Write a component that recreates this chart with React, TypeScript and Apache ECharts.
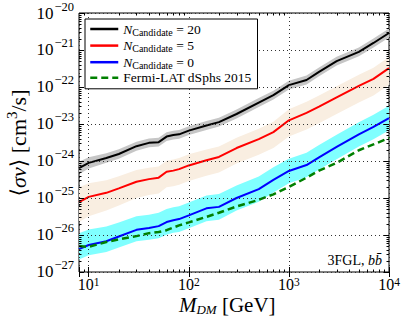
import React, { useEffect, useRef } from "react";
import * as echarts from "echarts";

// Dark-matter masses (GeV)
const masses = [8, 10, 15, 20, 30, 40, 50, 60, 70, 80, 100, 150, 200, 300, 500, 700, 1000, 1500, 2000, 3000, 5000, 7000, 10000];

// log10 <sigma v> [cm^3/s]
const logN20 = [-24.19, -24.05, -23.92, -23.81, -23.6, -23.51, -23.49, -23.34, -23.3, -23.28, -23.18, -23.04, -22.95, -22.73, -22.42, -22.22, -21.95, -21.81, -21.59, -21.3, -21.05, -20.81, -20.54];
const logN5 = [-25.11, -24.97, -24.86, -24.74, -24.56, -24.49, -24.45, -24.29, -24.26, -24.22, -24.12, -23.98, -23.89, -23.65, -23.41, -23.22, -22.9, -22.7, -22.53, -22.28, -21.97, -21.78, -21.49];
const logN0 = [-26.38, -26.27, -26.17, -26.04, -25.86, -25.81, -25.76, -25.65, -25.6, -25.57, -25.47, -25.28, -25.24, -25.0, -24.76, -24.51, -24.27, -24.11, -23.9, -23.62, -23.28, -23.08, -22.84];
const logFermi = [-26.3, -26.32, -26.19, -26.12, -26.03, -25.95, -25.92, -25.87, -25.8, -25.74, -25.66, -25.51, -25.4, -25.23, -25.05, -24.9, -24.7, -24.45, -24.26, -24.05, -23.71, -23.55, -23.38];

// band half-widths (decades above / below the line)
const n20Up = [0.17, 0.15, 0.13, 0.13, 0.12, 0.12, 0.12, 0.12, 0.12, 0.12, 0.12, 0.12, 0.12, 0.12, 0.12, 0.12, 0.12, 0.12, 0.12, 0.12, 0.12, 0.12, 0.12];
const n20Dn = [0.17, 0.15, 0.13, 0.13, 0.12, 0.12, 0.12, 0.12, 0.12, 0.12, 0.12, 0.12, 0.12, 0.12, 0.12, 0.12, 0.12, 0.12, 0.12, 0.12, 0.12, 0.12, 0.12];
const n5Up = [0.4, 0.37, 0.34, 0.33, 0.32, 0.31, 0.3, 0.3, 0.3, 0.3, 0.3, 0.29, 0.28, 0.28, 0.28, 0.28, 0.3, 0.3, 0.3, 0.3, 0.3, 0.3, 0.3];
const n5Dn = [0.54, 0.52, 0.48, 0.46, 0.44, 0.43, 0.43, 0.42, 0.42, 0.42, 0.42, 0.42, 0.42, 0.42, 0.42, 0.43, 0.44, 0.45, 0.45, 0.45, 0.45, 0.45, 0.45];
const n0Up = [0.43, 0.42, 0.4, 0.38, 0.37, 0.36, 0.36, 0.35, 0.35, 0.35, 0.35, 0.35, 0.35, 0.34, 0.34, 0.34, 0.33, 0.33, 0.33, 0.33, 0.33, 0.33, 0.33];
const n0Dn = [0.28, 0.28, 0.29, 0.3, 0.31, 0.32, 0.33, 0.34, 0.34, 0.35, 0.35, 0.35, 0.35, 0.34, 0.34, 0.34, 0.33, 0.33, 0.33, 0.33, 0.33, 0.33, 0.33];

const seriesNames = ["N20", "N5", "N0", "Fermi-LAT dSphs 2015"];
const legendCounts: Record<string, string> = { N20: "20", N5: "5", N0: "0" };

const SERIF = "'Liberation Serif', 'DejaVu Serif', serif";

const pw = (v: number) => Math.pow(10, v);
const linePoints = (logs: number[]) => masses.map((m, i) => [m, pw(logs[i])]);

function bandSeries(logs: number[], up: number[], dn: number[], color: string) {
  return {
    type: "custom",
    silent: true,
    z: 1,
    clip: true,
    data: [[masses[0], pw(logs[0])]],
    renderItem: (_params: any, api: any) => {
      const pts: number[][] = [];
      for (let i = 0; i < masses.length; i++) pts.push(api.coord([masses[i], pw(logs[i] + up[i])]));
      for (let i = masses.length - 1; i >= 0; i--) pts.push(api.coord([masses[i], pw(logs[i] - dn[i])]));
      return { type: "polygon", shape: { points: pts }, style: { fill: color } };
    },
  };
}

const xMinorVals: number[] = [];
for (const d of [1, 10, 100, 1000]) for (let k = 2; k <= 9; k++) { const v = k * d; if (v > 8 && v < 10000) xMinorVals.push(v); }
const yMinorVals: number[] = [];
for (let e = -27; e < -20; e++) for (let k = 2; k <= 9; k++) yMinorVals.push(k * Math.pow(10, e));

function isPow10(v: number) {
  const l = Math.log10(v);
  return Math.abs(l - Math.round(l)) < 1e-6;
}

export default function App() {
  const ref = useRef<HTMLDivElement>(null);
  useEffect(() => {
    if (!ref.current) return;
    const chart = echarts.init(ref.current, undefined, { renderer: "svg" });
    const baseAxis = {
      z: 3,
      axisLine: { show: false },
      axisTick: { show: true, inside: true, length: 5, lineStyle: { color: "#000", width: 1 } },
      minorTick: { show: false },
      nameMoveOverlap: false,
    };
    const option: any = {
      animation: false,
      backgroundColor: "#fff",
      grid: { left: 79, top: 13, right: 18, bottom: 54, show: true, borderColor: "#000", borderWidth: 1, backgroundColor: "transparent", outerBoundsMode: "none", containLabel: false },
      xAxis: [
        {
          ...baseAxis,
          type: "log",
          logBase: 10,
          min: 8,
          max: 10000,
          position: "bottom",
          axisLabel: {
            show: true,
            margin: 4,
            showMinLabel: true,
            showMaxLabel: true,
            hideOverlap: false,
            color: "#000",
            fontSize: 16,
            lineHeight: 17,
            fontFamily: SERIF,
            formatter: (v: number) => (isPow10(v) ? `10{sup|${Math.round(Math.log10(v))}}` : ""),
            rich: { sup: { fontSize: 11.5, fontFamily: SERIF, color: "#000", lineHeight: 8, verticalAlign: "top" } },
          },
          splitLine: { show: true, lineStyle: { color: "#333", type: [1, 3], width: 1 } },
        },
        {
          ...baseAxis,
          type: "log",
          logBase: 10,
          min: 8,
          max: 10000,
          position: "top",
          axisLabel: { show: false },
          splitLine: { show: false },
        },
      ],
      yAxis: [
        {
          ...baseAxis,
          type: "log",
          logBase: 10,
          min: 0.9999e-27,
          max: 1e-20,
          position: "left",
          axisLabel: {
            show: true,
            margin: 5,
            showMinLabel: true,
            showMaxLabel: true,
            hideOverlap: false,
            color: "#000",
            fontSize: 17,
            fontFamily: SERIF,
            formatter: (v: number) => {
              if (!isPow10(v)) return "";
              const e = Math.round(Math.log10(v));
              return `10{sup|${e < 0 ? "\u2212" : ""}${Math.abs(e)}}`;
            },
            rich: { sup: { fontSize: 12.5, fontFamily: SERIF, color: "#000", padding: [0, 0, 13, 1] } },
          },
          splitLine: { show: true, lineStyle: { color: "#333", type: [1, 3], width: 1 } },
        },
        {
          ...baseAxis,
          type: "log",
          logBase: 10,
          min: 0.9999e-27,
          max: 1e-20,
          position: "right",
          axisLabel: { show: false },
          splitLine: { show: false },
        },
      ],
      legend: {
        show: true,
        data: seriesNames,
        orient: "vertical",
        left: 85,
        top: 19,
        itemWidth: 28,
        itemHeight: 14,
        itemGap: 0.6,
        backgroundColor: "#fff",
        borderColor: "#000",
        borderWidth: 1,
        borderRadius: 0,
        padding: [2, 6, 4, 4],
        z: 10,
        selectedMode: false,
        itemStyle: { opacity: 0 },
        lineStyle: { width: 2.5 },
        formatter: (name: string) =>
          legendCounts[name] !== undefined
            ? `{it|N}{sub|Candidate}{n| = ${legendCounts[name]}}`
            : `{n|${name}}`,
        textStyle: {
          color: "#000",
          fontSize: 13.5,
          fontFamily: SERIF,
          rich: {
            it: { fontSize: 13.5, fontStyle: "italic", fontFamily: SERIF, color: "#000", lineHeight: 17 },
            sub: { fontSize: 10, fontFamily: SERIF, color: "#000", padding: [6, 0, 0, 0], lineHeight: 11 },
            n: { fontSize: 13.5, fontFamily: SERIF, color: "#000", lineHeight: 17 },
          },
        },
      },
      graphic: [
        {
          type: "text",
          x: 382,
          y: 260,
          z: 20,
          style: {
            text: "{n|3FGL, }{it|bb\u0304}",
            align: "right",
            verticalAlign: "middle",
            rich: {
              n: { fontSize: 14, fontFamily: SERIF, fill: "#000" },
              it: { fontSize: 14, fontStyle: "italic", fontFamily: SERIF, fill: "#000" },
            },
          },
        },
        {
          type: "text",
          x: 179,
          y: 305,
          z: 20,
          style: {
            text: "{it|M}{sub|DM}{n| [GeV]}",
            align: "left",
            verticalAlign: "middle",
            rich: {
              it: { fontSize: 21, fontStyle: "italic", fontFamily: SERIF, fill: "#000", lineHeight: 20 },
              sub: { fontSize: 13, fontStyle: "italic", fontFamily: SERIF, fill: "#000", padding: [8, 0, 0, 0], lineHeight: 12 },
              n: { fontSize: 21, fontFamily: SERIF, fill: "#000", lineHeight: 20 },
            },
          },
        },
        {
          type: "text",
          x: 18,
          y: 143,
          z: 20,
          rotation: Math.PI / 2,
          style: {
            text: "{n|\u27E8}{it|\u03C3v}{n|\u27E9 [cm}{sup|3}{n|/s]}",
            align: "center",
            verticalAlign: "middle",
            rich: {
              n: { fontSize: 22, fontFamily: SERIF, fill: "#000" },
              it: { fontSize: 22, fontStyle: "italic", fontFamily: SERIF, fill: "#000" },
              sup: { fontSize: 15, fontFamily: SERIF, fill: "#000", padding: [0, 0, 12, 0] },
            },
          },
        },
      ],
      series: [
        bandSeries(logN20, n20Up, n20Dn, "#c6c6c6"),
        bandSeries(logN5, n5Up, n5Dn, "#f9eee1"),
        bandSeries(logN0, n0Up, n0Dn, "#80ffff"),
        {
          type: "custom",
          silent: true,
          z: 4,
          clip: false,
          data: [[100, 1e-24]],
          renderItem: (params: any, api: any) => {
            const cs = params.coordSys;
            const top = cs.y, bottom = cs.y + cs.height, left = cs.x, right = cs.x + cs.width;
            const L = 2.5;
            const children: any[] = [];
            const st = { stroke: "#000", lineWidth: 1 };
            for (const v of xMinorVals) {
              const px = Math.round(api.coord([v, 1e-24])[0]) + 0.5;
              children.push({ type: "line", shape: { x1: px, y1: bottom, x2: px, y2: bottom - L }, style: st });
              children.push({ type: "line", shape: { x1: px, y1: top, x2: px, y2: top + L }, style: st });
            }
            for (const v of yMinorVals) {
              const py = Math.round(api.coord([100, v])[1]) + 0.5;
              children.push({ type: "line", shape: { x1: left, y1: py, x2: left + L, y2: py }, style: st });
              children.push({ type: "line", shape: { x1: right, y1: py, x2: right - L, y2: py }, style: st });
            }
            return { type: "group", children };
          },
        },
        {
          name: "N20",
          type: "line",
          data: linePoints(logN20),
          symbol: "none",
          showSymbol: false,
          z: 2,
          lineStyle: { color: "#000", width: 2 },
          itemStyle: { color: "#000" },
        },
        {
          name: "N5",
          type: "line",
          data: linePoints(logN5),
          symbol: "none",
          showSymbol: false,
          z: 2,
          lineStyle: { color: "#ff0000", width: 2 },
          itemStyle: { color: "#ff0000" },
        },
        {
          name: "N0",
          type: "line",
          data: linePoints(logN0),
          symbol: "none",
          showSymbol: false,
          z: 2,
          lineStyle: { color: "#0000ff", width: 2 },
          itemStyle: { color: "#0000ff" },
        },
        {
          name: "Fermi-LAT dSphs 2015",
          type: "line",
          data: linePoints(logFermi),
          symbol: "none",
          showSymbol: false,
          z: 2,
          lineStyle: { color: "#008000", width: 2.5, type: [7, 4] },
          itemStyle: { color: "#008000" },
        },
      ],
    };
    chart.setOption(option);
    return () => chart.dispose();
  }, []);
  return <div ref={ref} style={{ position: "fixed", left: 0, top: 0, width: 407, height: 326 }} />;
}
